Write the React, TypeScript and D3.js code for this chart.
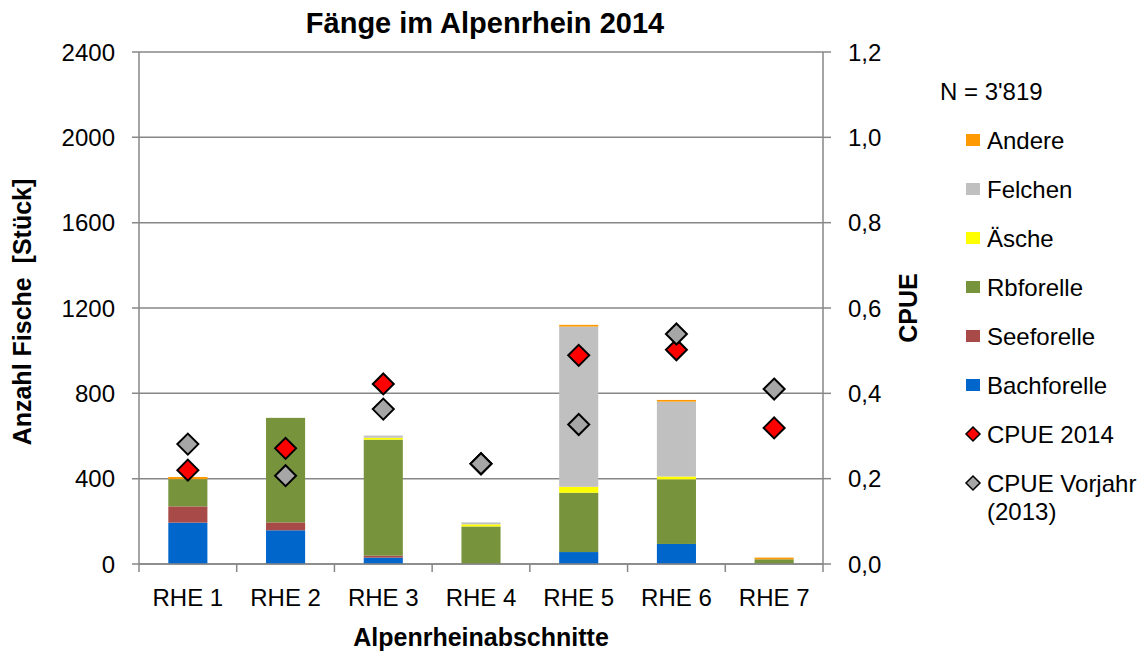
import * as d3 from "d3";

// Categories and values
const sections = ["RHE 1", "RHE 2", "RHE 3", "RHE 4", "RHE 5", "RHE 6", "RHE 7"];

const bachforelle = [194, 158, 30, 0, 56, 94, 0];
const seeforelle = [76, 37, 9, 0, 0, 0, 0];
const rbforelle = [128, 490, 544, 176, 278, 303, 22];
const aesche = [0, 0, 9, 10, 28, 13, 0];
const felchen = [0, 0, 10, 9, 751, 351, 0];
const andere = [10, 0, 0, 0, 8, 8, 8];

const cpue2014 = [0.22, 0.271, 0.422, 0.235, 0.489, 0.502, 0.319];
const cpue2013 = [0.281, 0.207, 0.363, 0.235, 0.327, 0.539, 0.41];

const leftTicks = [0, 400, 800, 1200, 1600, 2000, 2400];
const rightTicks = [0, 0.2, 0.4, 0.6, 0.8, 1.0, 1.2];

// stacking order bottom -> top
const speciesNames = ["Bachforelle", "Seeforelle", "Rbforelle", "Äsche", "Felchen", "Andere"];
const speciesColors = ["#0066CC", "#A84A47", "#77933C", "#FFFF00", "#C0C0C0", "#FF9900"];
const speciesValues = [bachforelle, seeforelle, rbforelle, aesche, felchen, andere];

const W = 1146;
const H = 651;
const plot = { left: 139, right: 823, top: 52, bottom: 564 };
const font = "'Liberation Sans', Arial, sans-serif";
const axisColor = "#878787";

export default function App() {
  const x = d3.scaleBand<string>()
    .domain(sections)
    .range([plot.left, plot.right])
    .paddingInner(0.6)
    .paddingOuter(0.3);
  const y = d3.scaleLinear().domain([0, 2400]).range([plot.bottom, plot.top]);
  const y2 = d3.scaleLinear().domain([0, 1.2]).range([plot.bottom, plot.top]);

  const table = sections.map((s, i) => {
    const row: Record<string, number | string> = { section: s };
    speciesNames.forEach((n, k) => (row[n] = speciesValues[k][i]));
    return row;
  });
  const stack = d3.stack<Record<string, number | string>>().keys(speciesNames)(table as any);

  const step = x.step();
  const boundaries = d3.range(sections.length + 1).map(i => plot.left + i * step);

  const diamond = (cx: number, cy: number, r: number) =>
    `M${cx},${cy - r}L${cx + r},${cy}L${cx},${cy + r}L${cx - r},${cy}Z`;

  const legendItems = [...speciesNames].reverse();
  const legendColors = [...speciesColors].reverse();
  const legendY0 = 140;
  const legendStep = 49;

  return (
    <svg width={W} height={H} style={{ position: "absolute", left: 0, top: 0, background: "#fff" }}
      fontFamily={font}>
      {/* title */}
      <text x={485} y={33} textAnchor="middle" fontSize={29} fontWeight="bold">Fänge im Alpenrhein 2014</text>

      {/* gridlines + left ticks */}
      {leftTicks.map(t => (
        <g key={"g" + t}>
          <line x1={plot.left - 7} x2={plot.right} y1={y(t)} y2={y(t)} stroke={axisColor} strokeWidth={1.5} />
          <text x={115} y={y(t)} dy="0.36em" textAnchor="end" fontSize={24}>{t}</text>
        </g>
      ))}
      {/* right ticks */}
      {rightTicks.map(t => (
        <g key={"r" + t}>
          <line x1={plot.right} x2={plot.right + 8} y1={y2(t)} y2={y2(t)} stroke={axisColor} strokeWidth={1.5} />
          <text x={848} y={y2(t)} dy="0.36em" fontSize={24}>{t.toFixed(1).replace(".", ",")}</text>
        </g>
      ))}
      <line x1={plot.left} x2={plot.left} y1={plot.top} y2={plot.bottom} stroke={axisColor} strokeWidth={1.5} />
      <line x1={plot.right} x2={plot.right} y1={plot.top} y2={plot.bottom} stroke={axisColor} strokeWidth={1.5} />

      {/* bars */}
      {stack.map((layer, k) => (
        <g key={speciesNames[k]} fill={speciesColors[k]}>
          {layer.map((d, i) => {
            const h = y(d[0]) - y(d[1]);
            if (h <= 0) return null;
            return <rect key={i} x={x(sections[i])} y={y(d[1])} width={x.bandwidth()} height={h} />;
          })}
        </g>
      ))}

      {/* bottom axis */}
      <line x1={plot.left} x2={plot.right} y1={plot.bottom} y2={plot.bottom} stroke={axisColor} strokeWidth={1.5} />
      {boundaries.map((b, i) => (
        <line key={"b" + i} x1={b} x2={b} y1={plot.bottom} y2={plot.bottom + 8} stroke={axisColor} strokeWidth={1.5} />
      ))}
      {sections.map(s => (
        <text key={s} x={(x(s) ?? 0) + x.bandwidth() / 2} y={597} dy="0.36em" textAnchor="middle" fontSize={24}>{s}</text>
      ))}

      {/* CPUE markers */}
      {cpue2014.map((v, i) => (
        <path key={"c14" + i} d={diamond((x(sections[i]) ?? 0) + x.bandwidth() / 2, y2(v), 10.5)}
          fill="#FF0000" stroke="#000" strokeWidth={2} />
      ))}
      {cpue2013.map((v, i) => (
        <path key={"c13" + i} d={diamond((x(sections[i]) ?? 0) + x.bandwidth() / 2, y2(v), 10.5)}
          fill="#A6A6A6" stroke="#000" strokeWidth={2} />
      ))}

      {/* axis titles */}
      <text x={481} y={637} dy="0.36em" textAnchor="middle" fontSize={25} fontWeight="bold">Alpenrheinabschnitte</text>
      <text transform={`translate(22,${(plot.top + plot.bottom) / 2 + 4}) rotate(-90)`} dy="0.36em"
        textAnchor="middle" fontSize={25} fontWeight="bold" style={{ whiteSpace: "pre" }}>
        {"Anzahl Fische  [Stück]"}
      </text>
      <text transform={`translate(908,${(plot.top + plot.bottom) / 2}) rotate(-90)`} dy="0.36em"
        textAnchor="middle" fontSize={25} fontWeight="bold">CPUE</text>

      {/* legend */}
      <text x={940} y={91} dy="0.36em" fontSize={24}>N = 3'819</text>
      {legendItems.map((name, i) => (
        <g key={name} transform={`translate(966,${legendY0 + i * legendStep})`}>
          <rect x={0} y={-6} width={14} height={12} fill={legendColors[i]} />
          <text x={21} y={0} dy="0.36em" fontSize={24}>{name}</text>
        </g>
      ))}
      <g transform={`translate(966,${legendY0 + 6 * legendStep})`}>
        <path d={diamond(7, 0, 7)} fill="#FF0000" stroke="#000" strokeWidth={1.5} />
        <text x={21} y={0} dy="0.36em" fontSize={24}>CPUE 2014</text>
      </g>
      <g transform={`translate(966,${legendY0 + 7 * legendStep})`}>
        <path d={diamond(7, 0, 7)} fill="#A6A6A6" stroke="#000" strokeWidth={1.5} />
        <text x={21} y={0} dy="0.36em" fontSize={24}>CPUE Vorjahr</text>
        <text x={21} y={28} dy="0.36em" fontSize={24}>(2013)</text>
      </g>
    </svg>
  );
}
